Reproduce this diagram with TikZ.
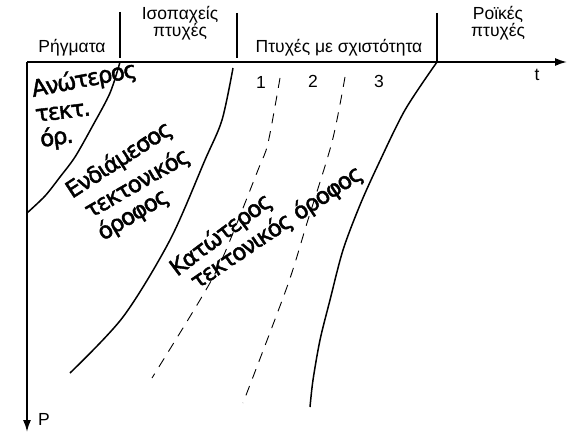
\documentclass[tikz,border=0pt]{standalone}
\usepackage{fontspec}
\setmainfont{Liberation Sans}
\newfontfamily\zonefont[FakeBold=1.8,LetterSpace=-6]{DejaVu Sans}
\usetikzlibrary{arrows.meta}

\begin{document}
\begin{tikzpicture}[x=1pt,y=-1pt,
 axis/.style={line width=1.7pt, -{Latex[length=12pt,width=8pt]}},
 fold/.style={line width=1.5pt},
 cleave/.style={line width=0.9pt, dash pattern=on 10pt off 8pt},
 divider/.style={line width=1.2pt},
 head/.style={font=\fontsize{17.5}{16}\selectfont, align=center, inner sep=0pt, anchor=base},
 zone/.style={font=\zonefont\fontsize{23}{24}\selectfont, anchor=base west, inner sep=0pt}]
 \useasboundingbox (0,0) rectangle (568,433);
 %axes
 \coordinate (origin) at (27,62);
 \coordinate (tend) at (567,62);
 \coordinate (pend) at (27,432);
 \draw [axis] (origin) -- (tend);
 \draw [axis] (origin) -- (pend);
 \node [head] (tlab) at (537,81) {t};
 \node [head] (plab) at (44,425) {P};
 %header
 \draw [divider] (120,12) -- (120,58);
 \draw [divider] (237,13) -- (237,58);
 \draw [divider] (437,13) -- (437,62);
 \node [head] (faults) at (72,53) {Ρήγματα};
 \node [head] (isopach) at (180,37) {Ισοπαχείς\\πτυχές};
 \node [head] (cleavage) at (339,53) {Πτυχές με σχιστότητα};
 \node [head] (flow) at (498,37) {Ροϊκές\\πτυχές};
 %boundaries
 \draw [fold] plot [smooth] coordinates {(120,62) (110,93) (92,127) (75,157) (60,177) (45,196) (27,213)};
 \draw [fold] plot [smooth] coordinates {(233,68) (222,120) (205,160) (170,240) (123,317) (70,373)};
 \draw [fold] plot [smooth] coordinates {(437,62) (405,110) (378,165) (360,205) (343,250) (330,300) (320,340) (313,380) (310,407)};
 % \draw [dashed] ...
 \draw [cleave] plot [smooth] coordinates {(280,78) (268,143) (258,170) (223,257) (200,300) (152,378)};
 \draw [cleave] plot [smooth] coordinates {(345,77) (332,142) (307,223) (287,287) (243,403)};
 \node [head] (one) at (261,89) {1};
 \node [head] (two) at (313,88) {2};
 \node [head] (three) at (379,88) {3};
 %zones
 \node [zone, rotate=11] (upper) at (33,97) {Ανώτερος};
 \node [zone, rotate=7] (uppertwo) at (36,122) {τεκτ.};
 \node [zone, rotate=8] (upperthree) at (41,147) {όρ.};
 \node [zone, rotate=33] (middle) at (72,199) {Ενδιάμεσος};
 \node [zone, rotate=30] (middletwo) at (90,219) {τεκτονικός};
 \node [zone, rotate=31] (middlethree) at (103,241) {όροφος};
 \node [zone, rotate=37] (lower) at (177,277) {Κατώτερος};
 \node [zone, rotate=34] (lowertwo) at (197,290) {τεκτονικός όροφος};
\end{tikzpicture}
\end{document}
